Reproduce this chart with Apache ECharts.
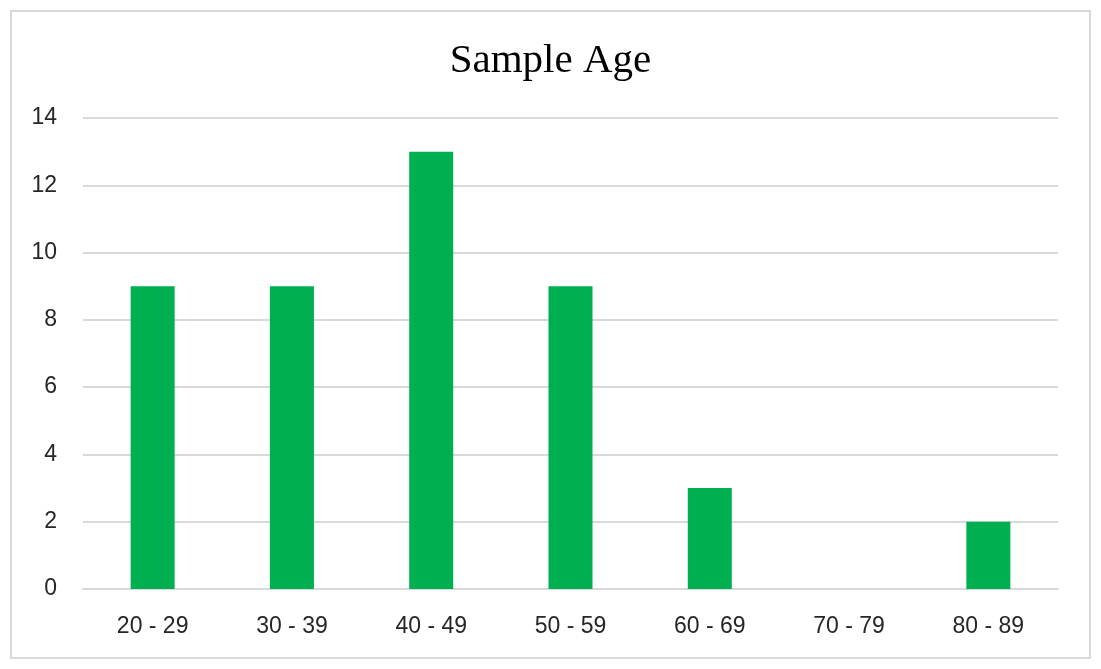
<!DOCTYPE html>
<html>
<head>
<meta charset="utf-8">
<script src="https://cdn.jsdelivr.net/npm/echarts@6/dist/echarts.min.js"></script>
<style>
  html, body { margin: 0; padding: 0; background: #fff; }
  #main { width: 1101px; height: 669px; }
</style>
</head>
<body>
<div id="main"></div>
<script>
var categories = ['20 - 29', '30 - 39', '40 - 49', '50 - 59', '60 - 69', '70 - 79', '80 - 89'];
var counts = [9, 9, 13, 9, 3, 0, 2];

var chart = echarts.init(document.getElementById('main'));
chart.setOption({
    backgroundColor: '#fff',
    animation: false,
    graphic: [{
        type: 'rect',
        shape: { x: 11, y: 11, width: 1079, height: 647 },
        style: { fill: 'none', stroke: '#d9d9d9', lineWidth: 2 },
        silent: true
    }],
    title: {
        text: 'Sample Age',
        left: 'center',
        top: 36,
        textStyle: {
            fontFamily: 'Liberation Serif',
            fontSize: 41,
            fontWeight: 'normal',
            color: '#000'
        }
    },
    grid: { left: 83, right: 43, top: 118, bottom: 80 },
    xAxis: {
        type: 'category',
        data: categories,
        axisLine: { lineStyle: { color: '#d9d9d9', width: 2 } },
        axisTick: { show: false },
        axisLabel: { color: '#262626', fontSize: 23, fontFamily: 'Liberation Sans', margin: 26 }
    },
    yAxis: {
        type: 'value',
        min: 0,
        max: 14,
        interval: 2,
        axisLine: { show: false },
        axisTick: { show: false },
        splitLine: { lineStyle: { color: '#d9d9d9', width: 2 } },
        axisLabel: { color: '#262626', fontSize: 23, fontFamily: 'Liberation Sans', margin: 26 }
    },
    series: [{
        type: 'bar',
        data: counts,
        barWidth: 44,
        itemStyle: { color: '#00b050' }
    }]
});
</script>
</body>
</html>
